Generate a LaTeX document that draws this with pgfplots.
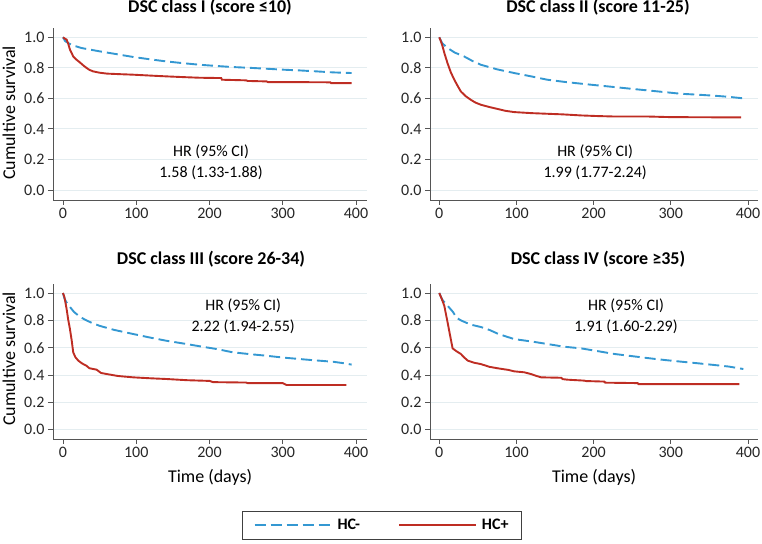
\documentclass[border=0pt]{standalone}
\usepackage{fontspec}
\setmainfont{Carlito}
\usepackage{pgfplots}
\pgfplotsset{compat=1.18}
\definecolor{hcblue}{RGB}{52,152,210}
\definecolor{hcred}{RGB}{190,45,35}
\definecolor{gridc}{RGB}{228,237,240}
\definecolor{axc}{RGB}{85,85,85}
\pgfplotsset{km/.style={
  scale only axis,
  axis x line*=bottom, axis y line*=left,
  every outer x axis line/.append style={-},
  every outer y axis line/.append style={-},
  axis line style={axc, line width=0.8pt},
  tick style={axc, line width=0.8pt},
  tick align=outside, major tick length=5bp,
  xtick={0,100,200,300,400}, ytick={0,0.2,0.4,0.6,0.8,1},
  y tick label style={/pgf/number format/.cd, fixed, fixed zerofill, precision=1, /tikz/.cd},
  /pgf/number format/assume math mode=true,
  ymajorgrids, grid style={gridc, line width=0.8pt},
  tick label style={font=\fontsize{16bp}{19bp}\selectfont, text=black!85},
  hcm/.style={hcblue, line width=1.9bp, dash pattern=on 11bp off 5bp},
  hcp/.style={hcred, line width=1.9bp},
}}
\begin{document}
\begin{tikzpicture}[font=\fontsize{16bp}{21bp}\selectfont]
\useasboundingbox (0bp,0bp) rectangle (762bp,544bp);
% Panel 1
\begin{axis}[km, at={(53bp,344bp)}, anchor=south west, width=314bp, height=172bp,
  xmin=-13.6, xmax=415, ymin=-0.066, ymax=1.061]
\addplot[hcm] coordinates {(0,1)(3,0.975)(8,0.96)(12,0.95)(25,0.93)(50,0.908)(75,0.888)(96,0.871)(120,0.855)(141,0.842)(165,0.83)(187,0.82)(210,0.812)(232,0.805)(255,0.80)(278,0.794)(300,0.788)(323,0.783)(345,0.777)(369,0.77)(394,0.766)};
\addplot[hcp] coordinates {(0,1)(3,0.99)(5,0.985)(7,0.96)(9.5,0.92)(14,0.875)(18,0.855)(23,0.836)(28,0.815)(32,0.80)(36,0.787)(41,0.777)(50,0.768)(60,0.762)(80,0.758)(96,0.755)(120,0.749)(141,0.744)(165,0.739)(187,0.735)(216,0.733)(217,0.722)(250,0.718)(252,0.714)(278,0.711)(280,0.706)(330,0.706)(365,0.705)(366,0.70)(394,0.70)};
\node[align=center] at (axis cs:202,0.182) {HR (95\% CI)\\1.58 (1.33-1.88)};
\end{axis}
% Panel 2
\begin{axis}[km, at={(430bp,344bp)}, anchor=south west, width=328bp, height=172bp,
  xmin=-12, xmax=413, ymin=-0.066, ymax=1.061]
\addplot[hcm] coordinates {(0,1)(4,0.96)(10.8,0.93)(20,0.90)(32,0.875)(43,0.845)(54,0.82)(75,0.79)(97,0.766)(120,0.743)(140,0.722)(162,0.708)(184,0.696)(205,0.685)(227,0.674)(250,0.662)(270,0.652)(292,0.641)(313,0.63)(335,0.624)(357,0.617)(375,0.61)(394,0.60)};
\addplot[hcp] coordinates {(0,1)(2,0.975)(4.3,0.94)(7,0.89)(10.8,0.829)(15,0.77)(19.5,0.722)(24,0.68)(28,0.645)(34,0.615)(41,0.59)(47,0.572)(54,0.558)(65,0.543)(76,0.53)(86,0.518)(97,0.51)(120,0.503)(140,0.499)(160,0.495)(184,0.488)(205,0.484)(227,0.481)(270,0.481)(300,0.477)(391,0.475)};
\node[align=center] at (axis cs:202,0.182) {HR (95\% CI)\\1.99 (1.77-2.24)};
\end{axis}
% Panel 3
\begin{axis}[km, at={(53bp,105bp)}, anchor=south west, width=314bp, height=155bp,
  xmin=-13.6, xmax=415, ymin=-0.068, ymax=1.066,
  legend columns=2,
  legend style={draw=black!75, line width=0.8pt, at={(1.048,-0.555)}, anchor=center,
    font=\fontsize{16bp}{19bp}\selectfont\bfseries, inner xsep=11bp, inner ysep=6bp,
    /tikz/every odd column/.append style={column sep=3bp},
    /tikz/every even column/.append style={column sep=36bp}},
  legend image code/.code={\draw[#1] (0bp,0bp) -- (77bp,0bp);}]
\addplot[hcm] coordinates {(0,1)(2,0.96)(5,0.93)(10,0.895)(15,0.862)(18.6,0.846)(25,0.82)(32,0.80)(40,0.78)(50,0.76)(70,0.73)(96,0.70)(118,0.675)(141,0.651)(165,0.63)(187,0.61)(210,0.59)(232,0.566)(255,0.553)(278,0.541)(300,0.528)(323,0.517)(345,0.507)(369,0.497)(385,0.485)(394,0.476)};
\addlegendentry{HC-}
\addplot[hcp] coordinates {(0,1)(2,0.97)(5,0.883)(7,0.81)(9.5,0.737)(12,0.65)(14,0.566)(17,0.53)(21,0.505)(26,0.485)(32,0.468)(36,0.45)(46,0.439)(52,0.415)(60,0.407)(75,0.393)(96,0.383)(120,0.376)(141,0.371)(170,0.362)(200,0.357)(205,0.348)(250,0.345)(252,0.341)(300,0.341)(305,0.327)(387,0.327)};
\addlegendentry{HC+}
\node[align=center] at (axis cs:246,0.828) {HR (95\% CI)\\2.22 (1.94-2.55)};
\end{axis}
% Panel 4
\begin{axis}[km, at={(430bp,105bp)}, anchor=south west, width=328bp, height=155bp,
  xmin=-12, xmax=413, ymin=-0.068, ymax=1.066]
\addplot[hcm] coordinates {(0,1)(4,0.95)(10.8,0.907)(18,0.86)(22,0.82)(28,0.80)(40,0.77)(54,0.751)(65,0.73)(76,0.702)(85,0.685)(97,0.663)(120,0.645)(140,0.627)(162,0.607)(184,0.595)(205,0.575)(227,0.554)(250,0.538)(270,0.524)(292,0.51)(313,0.498)(335,0.486)(357,0.473)(375,0.462)(394,0.444)};
\addplot[hcp] coordinates {(0,1)(3,0.96)(6.5,0.907)(8.5,0.85)(10.8,0.785)(14,0.69)(17.3,0.595)(22,0.575)(28,0.554)(32,0.53)(37,0.505)(45,0.49)(54,0.48)(65,0.46)(76,0.449)(90,0.437)(97,0.427)(110,0.42)(119,0.407)(125,0.395)(132,0.383)(158,0.38)(160,0.37)(166,0.366)(188,0.359)(190,0.356)(214,0.352)(215,0.344)(257,0.341)(258,0.334)(389,0.334)};
\node[align=center] at (axis cs:242,0.828) {HR (95\% CI)\\1.91 (1.60-2.29)};
\end{axis}
% titles and labels
\node[anchor=base, font=\fontsize{18bp}{21bp}\selectfont\bfseries] at (210bp,531bp) {DSC class I (score ≤10)};
\node[anchor=base, font=\fontsize{18bp}{21bp}\selectfont\bfseries] at (598bp,531bp) {DSC class II (score 11-25)};
\node[anchor=base, font=\fontsize{18bp}{21bp}\selectfont\bfseries] at (211bp,279bp) {DSC class III (score 26-34)};
\node[anchor=base, font=\fontsize{18bp}{21bp}\selectfont\bfseries] at (598bp,279bp) {DSC class IV (score ≥35)};
\node[rotate=90, font=\fontsize{18bp}{21bp}\selectfont] at (9bp,431bp) {Cumultive survival};
\node[rotate=90, font=\fontsize{18bp}{21bp}\selectfont] at (9bp,185bp) {Cumultive survival};
\node[anchor=base, font=\fontsize{18bp}{21bp}\selectfont] at (210bp,61bp) {Time (days)};
\node[anchor=base, font=\fontsize{18bp}{21bp}\selectfont] at (594bp,61bp) {Time (days)};
\end{tikzpicture}
\end{document}
